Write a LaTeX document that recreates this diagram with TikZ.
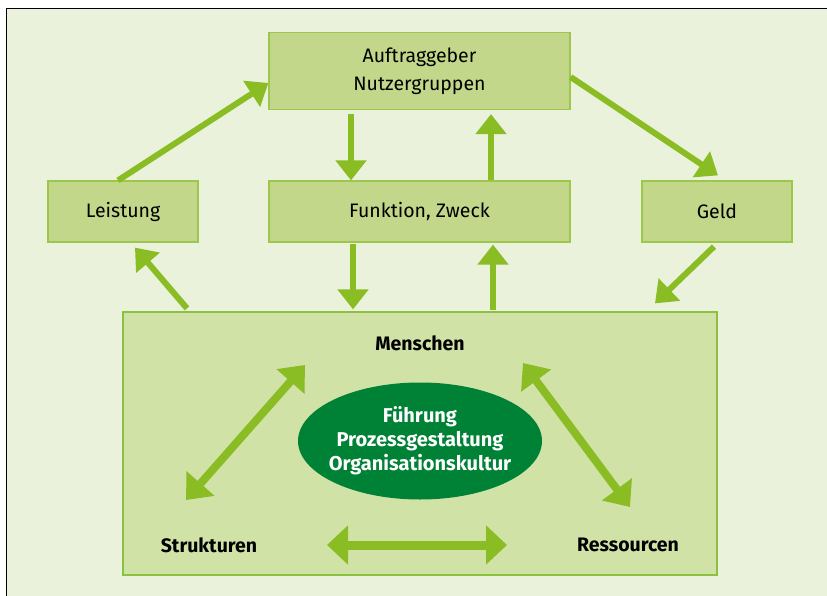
\documentclass[tikz,border=0pt]{standalone}
\usepackage{fontspec}
\setmainfont{Fira Sans}
\usetikzlibrary{arrows.meta,shapes.geometric,calc}
\definecolor{bg}{HTML}{EBF2DC}
\definecolor{boxfill}{HTML}{C3D78A}
\definecolor{boxline}{HTML}{9CC74A}
\definecolor{bigfill}{HTML}{D1E2A7}
\definecolor{bigline}{HTML}{8CC13F}
\definecolor{arrowc}{HTML}{8ABD24}
\definecolor{core}{HTML}{008236}
\tikzset{
  box/.style={draw=boxline, fill=boxfill, line width=1.2pt, inner sep=0pt,
    align=center, text=black, font=\fontsize{19.5}{28}\selectfont},
  lbl/.style={text=black, font=\bfseries\fontsize{19.5}{22}\selectfont},
  flow/.style={draw=arrowc, line width=6pt, -{Triangle[width=30pt,length=20pt]}},
  both/.style={draw=arrowc, line width=8pt,
    {Triangle[width=36pt,length=22pt]}-{Triangle[width=36pt,length=22pt]}}
}
\begin{document}
\begin{tikzpicture}[x=1pt,y=-1pt]
\useasboundingbox (0,0) rectangle (827,596);
% page background and frame
\fill[bg] (6.5,8.5) rectangle (827,596);
\draw[black, line width=1.5pt] (6.5,596) -- (6.5,8.5) -- (827,8.5);

% upper boxes
\node[box, minimum width=301pt, minimum height=77pt] (top) at (419.5,71) {Auftraggeber\\Nutzergruppen};
\node[box, minimum width=150pt, minimum height=61pt] (leistung) at (123,211.5) {Leistung};
\node[box, minimum width=301pt, minimum height=61pt] (funktion) at (419.5,211.5) {Funktion, Zweck};
\node[box, minimum width=150pt, minimum height=61pt] (geld) at (717,211.5) {Geld};

% organisation box
\node[draw=bigline, fill=bigfill, line width=1.2pt, minimum width=594pt, minimum height=263pt] (org) at (420,443.5) {};
\node[ellipse, fill=core, minimum width=244pt, minimum height=117pt, inner sep=0pt] (kern) at (420,441) {};
\node[align=center, text=white, font=\bfseries\fontsize{20}{24}\selectfont] (kerntext) at (kern.center)
  {Führung\\Prozessgestaltung\\Organisationskultur};
\node[lbl] (menschen) at (420,343) {Menschen};
\node[lbl] (strukturen) at (209,545) {Strukturen};
\node[lbl] (ressourcen) at (628,545) {Ressourcen};

% connectors between the boxes
\draw[flow] ($(leistung.north)+(-5,0)$) -- ($(top.west)+(0,12)$);
\draw[flow] ($(top.east)+(0,6)$) -- ($(geld.north)+(1,-5)$);
\draw[flow] ($(top.south)+(-68.5,4)$) -- ($(funktion.north)+(-68.5,0)$);
\draw[flow] ($(funktion.north)+(71.5,0)$) -- ($(top.south)+(71.5,4)$);
\draw[flow] ($(funktion.south)+(-66.5,1)$) -- ($(org.north)+(-67,-2)$);
\draw[flow] ($(org.north)+(73,-1)$) -- ($(funktion.south)+(73.5,2)$);
\draw[flow] ($(org.north)+(-233,-3)$) -- ($(leistung.south)+(12,5)$);
\draw[flow] ($(geld.south)+(-3,4)$) -- ($(org.north)+(235,-8)$);

% relations inside the organisation
\coordinate (sl) at (186,500);
\coordinate (ml) at (305,365);
\coordinate (mr) at (523,363);
\coordinate (rr) at (630,507);
\coordinate (hl) at (327,545);
\coordinate (hr) at (507,545);
\draw[both] (sl) -- (ml);
\draw[both] (mr) -- (rr);
\draw[draw=arrowc, line width=9pt,
  {Triangle[width=38pt,length=21pt]}-{Triangle[width=38pt,length=21pt]}] (hl) -- (hr);
\end{tikzpicture}
\end{document}
